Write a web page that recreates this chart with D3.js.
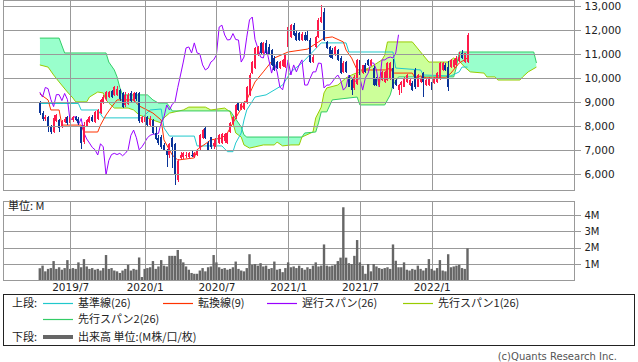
<!DOCTYPE html>
<html>
<head>
<meta charset="utf-8">
<script src="https://cdn.jsdelivr.net/npm/d3@7"></script>
<style>
  body { margin: 0; background: #fff; }
  svg { display: block; }
  text { font-family: "DejaVu Sans", sans-serif; fill: #222; }
  .jp { font-family: "Noto Sans CJK JP", sans-serif; }
</style>
</head>
<body>
<svg id="chart" width="638" height="362"></svg>
<script>
// weekly bars, week of 2019/4/15 .. week of 2022/3/28 (yen)
const opens  = [9000,8550,8280,8370,7980,7750,8200,8250,7950,8150,8370,8120,8250,8350,8300,7950,7330,8000,8150,8350,8160,8300,8550,8950,9100,9200,9450,9290,9300,9500,9370,8850,8900,9370,9050,9350,9350,8150,8150,8380,8050,8250,7700,7500,7530,7200,7000,6800,7500,7240,5750,6650,6700,6750,6700,6800,6700,6800,7070,7500,7900,7280,7530,7150,7100,7300,7300,7350,7300,7750,8100,8370,8950,8700,8700,8950,9300,10200,10400,10950,11460,11040,11460,11300,11160,10830,10660,10410,10500,10450,11290,11700,12200,11870,11870,11600,11800,11800,11580,10660,11290,11700,12330,12750,11500,11290,11160,10950,11160,10830,10250,10660,10040,9910,9580,9750,10750,10200,10540,10750,10540,10410,10000,9700,9910,9830,9910,9950,10410,9910,9490,9700,9620,9830,9700,9790,10330,9620,9830,10200,9700,9700,9830,9790,9830,9950,10330,10540,10450,10450,10450,10540,10700,11040,10660,10660];
const highs  = [9050,8620,8450,8400,8050,8450,8500,8300,8250,8380,8400,8400,8420,8400,8350,8000,8160,8300,8400,8450,8600,8700,9100,9300,9450,9450,9500,9650,9650,9550,9400,9400,9350,9450,9400,9400,9400,8400,8450,8400,8400,8300,8000,7600,7600,7300,7050,7300,7550,7300,6600,6900,6900,6900,6900,6950,6900,7050,7650,7850,7950,7350,7550,7400,7550,7650,7700,7700,7700,8150,8400,8900,9000,8950,9050,9650,10200,10700,11300,11350,11500,11500,11600,11400,11200,10900,10700,10700,10800,11000,12150,12250,12300,11950,11900,11900,11900,12000,11650,10950,11750,12500,13050,12900,11550,11350,11250,11350,11200,10900,10700,10700,10100,9950,10100,10800,10800,10550,10600,10800,10800,10500,10050,10050,10300,10300,10650,10650,10800,9950,9750,9850,10050,10150,9950,9850,10400,10150,10050,10250,9950,10050,9900,10050,10250,10650,10650,10600,10700,10800,10800,10900,11100,11150,11050,11870];
const lows   = [8450,8200,8200,7750,7650,7700,8150,7750,7900,8100,8050,8080,8150,8200,8050,7050,7250,7950,8100,8150,8100,8250,8500,8900,9050,9150,9150,9250,9250,9050,8750,8800,8850,9000,9000,9050,8100,8100,8100,8000,8000,7650,7400,7200,7050,6950,6300,6650,6250,5530,5650,6600,6600,6650,6600,6700,6650,6750,7000,7450,7450,6950,7050,7050,7050,7250,7250,7300,7250,7700,8050,8300,8600,8650,8650,8900,9250,10150,10350,10900,10950,11000,11000,10950,10500,10300,10350,10380,10450,10400,11250,11650,11750,11550,11550,11550,11550,11550,10600,10600,11250,11650,12300,11550,11200,10850,10800,10900,10700,10150,10200,10200,9600,9290,9500,9700,10100,10150,10200,10500,10500,9650,9650,9600,9850,9800,9850,9900,9550,9650,9280,9370,9600,9800,9650,9450,9550,9600,9800,9200,9650,9650,9150,9750,9800,9900,10300,10300,9450,10400,10400,10500,10650,10800,10600,10600];
const closes = [8520,8280,8380,7950,7720,8340,8450,7920,8200,8300,8120,8350,8380,8250,8120,7300,8040,8250,8350,8200,8570,8650,9080,9200,9400,9400,9200,9600,9550,9100,8800,9300,9300,9050,9350,9100,8200,8350,8380,8050,8300,7700,7450,7280,7100,7000,6780,7250,7120,5950,6550,6800,6850,6800,6850,6750,6850,7000,7600,7820,7500,7000,7120,7300,7500,7600,7650,7650,7680,8120,8370,8870,8660,8900,9000,9600,10120,10660,11250,11290,11040,11460,11040,11000,10540,10330,10410,10660,10750,10950,12120,12200,11790,11580,11600,11850,11600,11580,10660,10870,11700,12420,12540,11600,11250,10870,10830,11290,10750,10200,10620,10250,9620,9500,10040,10750,10120,10540,10250,10540,10750,9700,9700,9990,10250,10250,10620,10600,9580,9700,9700,9830,10000,10120,9910,9490,9620,10120,10000,9830,9910,10000,9490,10000,10200,10620,10620,10330,9620,10750,10750,10830,10870,10830,11040,11800];
// volume, million shares
const volumes = [0.74,0.9,0.55,0.7,0.75,1.18,0.7,0.8,0.65,0.75,1.24,0.7,0.75,0.7,1.1,0.8,1.3,0.85,0.7,0.75,0.65,0.7,0.6,0.75,1.55,0.7,0.75,0.6,0.55,0.45,0.6,0.7,0.95,0.6,0.7,0.65,1.4,0.2,0.7,0.75,0.8,1.18,0.7,0.85,1.24,0.9,0.85,1.5,1.5,1.5,1.86,1.3,1.1,0.85,0.65,0.45,0.4,0.4,0.6,0.75,0.55,0.8,0.85,1.55,1.1,0.8,0.7,0.75,0.65,0.7,0.8,1.15,0.7,0.6,0.55,0.75,1.6,0.95,1.0,0.9,1.05,0.85,0.9,0.7,0.75,1.15,0.65,0.7,0.5,0.75,1.1,0.8,0.85,0.75,0.9,0.75,0.65,0.8,0.7,0.9,1.1,0.85,0.9,2.2,0.9,0.85,0.9,0.95,1.18,1.39,4.48,1.39,1.05,1.0,1.5,2.47,1.1,0.9,0.4,1.0,0.55,1.0,0.85,0.75,0.7,0.75,0.8,0.7,2.2,1.2,0.8,0.8,1.1,0.65,0.6,0.7,0.65,0.9,0.7,0.6,0.75,1.3,0.7,0.6,0.75,1.24,0.6,0.55,1.6,0.8,0.85,0.9,0.95,0.75,0.7,1.96];

// ichimoku lines: [week, value]
const tenkan = [[0,9330],[3,9080],[4,8660],[7,8660],[8,8030],[15,8030],[16,7740],[21,7740],[22,8030],[24,8450],[26,8780],[28,9080],[34,9080],[36,8830],[41,8530],[44,8240],[45,7410],[48,6780],[50,6570],[56,6660],[57,7000],[62,7410],[66,7490],[68,7700],[70,8120],[72,8530],[75,9080],[78,9830],[81,10250],[85,10830],[90,11080],[97,11200],[101,11500],[103,11660],[106,11710],[110,11500],[111,11160],[113,10830],[115,10330],[126,10330],[127,10450],[128,10200],[135,10200],[136,10000],[138,10080],[140,10000],[147,10000],[149,10200],[152,10620],[155,10830]];
const kijun = [[0,8930],[14,8930],[15,8660],[21,8660],[23,8330],[37,8330],[40,8660],[44,8700],[45,7910],[47,7570],[56,7570],[57,7160],[66,7160],[68,6920],[70,6920],[71,7280],[73,7700],[74,8240],[75,8660],[78,9200],[82,9290],[88,9700],[91,10250],[95,10620],[102,11460],[111,11460],[112,11080],[128,11080],[129,10410],[138,10330],[139,10120],[149,10080],[152,10250],[153,10450],[155,10450]];
const span1 = [[0,10540],[3,10450],[5,10120],[7,9830],[10,9410],[12,9160],[13,9000],[17,9000],[18,9200],[21,9410],[23,9370],[24,9080],[25,8950],[27,8740],[32,8740],[34,8660],[36,8450],[39,8330],[41,8240],[44,8120],[45,8330],[47,8530],[52,8660],[54,8780],[60,8780],[62,8660],[67,8740],[69,8580],[70,8120],[71,7700],[73,7530],[74,7200],[76,7070],[78,7120],[81,7200],[85,7200],[86,7320],[88,7160],[91,7200],[94,7200],[95,7530],[99,7740],[100,8330],[102,8780],[103,9370],[104,9580],[108,9700],[111,10000],[113,10120],[120,10450],[124,10750],[125,10950],[126,11500],[135,11500],[138,11080],[141,10660],[148,10660],[150,10830],[152,10700],[154,10450],[156,10250],[161,10200],[162,10040],[165,10040],[166,9910],[174,9910],[175,10040],[177,10250],[180,10450]];
const span2 = [[0,11660],[7,11660],[9,11040],[24,11040],[25,10660],[27,10330],[28,10040],[29,9600],[30,9290],[39,9290],[41,9080],[43,8950],[46,8950],[47,8800],[48,8620],[69,8620],[70,8450],[73,7950],[74,7620],[75,7530],[95,7530],[96,7700],[100,7740],[101,8120],[102,8580],[104,8580],[106,9080],[115,9200],[116,8870],[125,8870],[127,9290],[128,9700],[130,10040],[150,10040],[151,10450],[152,11080],[179,11080],[180,10620]];
const chikouShift = 25;

const tickWeeks = [11, 38, 64, 90, 116, 142];
const tickLabels = ["2019/7", "2020/1", "2020/7", "2021/1", "2021/7", "2022/1"];
const priceTicks = [6000, 7000, 8000, 9000, 10000, 11000, 12000, 13000];
const volTicks = [1, 2, 3, 4];

const legendNames = ["基準線(26)", "転換線(9)", "遅行スパン(26)", "先行スパン1(26)", "先行スパン2(26)"];
const legendColors = ["#20c8cc", "#ff3300", "#9900ff", "#99cc00", "#33cc66"];

const svg = d3.select("#chart");
const left = 3.5, right = 574.5;
const pTop = 0.5, pBot = 190.5, vTop = 201.5, vBot = 280.5;
const snap = v => Math.round(v) + 0.5;

const x = d3.scaleLinear().domain([0, 155]).range([39.8, 467.5]);
const y = d3.scaleLinear().domain([6000, 13000]).range([173.7, 6]);
const yv = d3.scaleLinear().domain([0, 4]).range([280.3, 215.1]);

const defs = svg.append("defs");
defs.append("clipPath").attr("id", "pclip")
  .append("rect").attr("x", left).attr("y", pTop).attr("width", right - left).attr("height", pBot - pTop);

const areaDown = d3.area().x(d => x(d[0])).y0(d => y(d[1])).y1(400);
const areaUp = d3.area().x(d => x(d[0])).y0(-50).y1(d => y(d[1]));
defs.append("clipPath").attr("id", "above2").append("path").attr("d", areaUp(span2));
defs.append("clipPath").attr("id", "above1").append("path").attr("d", areaUp(span1));

const plot = svg.append("g").attr("clip-path", "url(#pclip)");

// cloud
plot.append("path").attr("d", areaDown(span1)).attr("fill", "#ccff99").attr("clip-path", "url(#above2)");
plot.append("path").attr("d", areaDown(span2)).attr("fill", "#99ffcc").attr("clip-path", "url(#above1)");

// grid
const grid = svg.append("g").attr("stroke", "#999").attr("shape-rendering", "crispEdges");
grid.selectAll(".hp").data(priceTicks).join("line")
  .attr("x1", left).attr("x2", right).attr("y1", d => snap(y(d))).attr("y2", d => snap(y(d)));
grid.selectAll(".hv").data(volTicks).join("line")
  .attr("x1", left).attr("x2", right).attr("y1", d => snap(yv(d))).attr("y2", d => snap(yv(d)));
grid.selectAll(".vp").data(tickWeeks).join("line")
  .attr("x1", d => snap(x(d))).attr("x2", d => snap(x(d))).attr("y1", pTop).attr("y2", pBot);
grid.selectAll(".vv").data(tickWeeks).join("line")
  .attr("x1", d => snap(x(d))).attr("x2", d => snap(x(d))).attr("y1", vTop).attr("y2", vBot);

// lines
const line = d3.line().x(d => x(d[0])).y(d => y(d[1]));
const chikou = closes.slice(chikouShift).map((c, j) => [j, c]);
[[span1, legendColors[3]], [span2, legendColors[4]], [kijun, legendColors[0]], [tenkan, legendColors[1]], [chikou, legendColors[2]]]
  .forEach(([data, color]) => {
    plot.append("path").attr("d", line(data)).attr("fill", "none").attr("stroke", color).attr("stroke-width", 1);
  });

// candles
const weeks = d3.range(closes.length);
const candleColor = i => closes[i] >= opens[i] ? "#ff1a4a" : "#0a3398";
const cx = i => Math.round(x(i)) - 1;
const candles = plot.append("g").attr("shape-rendering", "crispEdges");
candles.selectAll(".wick").data(weeks).join("rect")
  .attr("x", i => cx(i) + 0.5).attr("width", 1)
  .attr("y", i => y(highs[i])).attr("height", i => y(lows[i]) - y(highs[i]))
  .attr("fill", candleColor);
candles.selectAll(".body").data(weeks).join("rect")
  .attr("x", cx).attr("width", 2)
  .attr("y", i => y(Math.max(opens[i], closes[i])))
  .attr("height", i => Math.max(1, Math.abs(y(opens[i]) - y(closes[i]))))
  .attr("fill", candleColor);

// volume
svg.append("g").selectAll("rect").data(weeks).join("rect")
  .attr("x", i => x(i) - 1.2).attr("width", 2.4)
  .attr("y", i => yv(volumes[i])).attr("height", i => yv(0) - yv(volumes[i]))
  .attr("fill", "#666");

// borders
svg.append("rect").attr("x", left).attr("y", pTop).attr("width", right - left).attr("height", pBot - pTop)
  .attr("fill", "none").attr("stroke", "#999").attr("shape-rendering", "crispEdges");
svg.append("rect").attr("x", left).attr("y", vTop).attr("width", right - left).attr("height", vBot - vTop)
  .attr("fill", "none").attr("stroke", "#999").attr("shape-rendering", "crispEdges");

// axes
const styleAxis = g => {
  g.select(".domain").remove();
  g.selectAll(".tick line").attr("stroke", "#999").attr("shape-rendering", "crispEdges");
  g.selectAll(".tick text").attr("fill", "#222").style("font-family", "DejaVu Sans").style("font-size", "10.5px");
};
svg.append("g").attr("transform", `translate(${right},0)`)
  .call(d3.axisRight(y).tickValues(priceTicks).tickFormat(d3.format(",")).tickSize(6).tickPadding(4))
  .call(styleAxis);
svg.append("g").attr("transform", `translate(${right},0)`)
  .call(d3.axisRight(yv).tickValues(volTicks).tickFormat(d => d + "M").tickSize(6).tickPadding(4))
  .call(styleAxis)
  .call(g => g.selectAll(".tick text").style("font-size", "10px"));
svg.append("g").attr("transform", `translate(0,${vBot})`)
  .call(d3.axisBottom(x).tickValues(tickWeeks).tickFormat((d, i) => tickLabels[i]).tickSize(0).tickPadding(3))
  .call(styleAxis);

svg.append("text").attr("class", "jp").attr("x", 8).attr("y", 206).attr("dy", "0.35em")
  .style("font-size", "11px").text("単位: M");

// legend
svg.append("rect").attr("x", 3.5).attr("y", 294.5).attr("width", 631).attr("height", 51)
  .attr("fill", "none").attr("stroke", "#222").attr("shape-rendering", "crispEdges");
const legendPos = [[43, 303.5], [163, 303.5], [267, 303.5], [403, 303.5], [43, 319.5]];
const legend = svg.append("g");
legend.selectAll("path").data(legendNames).join("path")
  .attr("d", (d, i) => `M${legendPos[i][0]},${legendPos[i][1]}h30`)
  .style("stroke", (d, i) => legendColors[i]).style("stroke-width", 1.2).style("fill", "none");
legend.selectAll("text").data(legendNames).join("text").attr("class", "jp")
  .attr("x", (d, i) => legendPos[i][0] + 35).attr("y", (d, i) => legendPos[i][1]).attr("dy", "0.35em")
  .style("font-size", "11px").text(d => d);
svg.append("text").attr("class", "jp").attr("x", 12).attr("y", 303.5).attr("dy", "0.35em").style("font-size", "11px").text("上段:");
svg.append("text").attr("class", "jp").attr("x", 12).attr("y", 337).attr("dy", "0.35em").style("font-size", "11px").text("下段:");
svg.append("line").attr("x1", 43).attr("x2", 73).attr("y1", 337).attr("y2", 337).attr("stroke", "#666").attr("stroke-width", 4);
svg.append("text").attr("class", "jp").attr("x", 78).attr("y", 337).attr("dy", "0.35em").style("font-size", "11px").text("出来高 単位:(M株/口/枚)");

svg.append("text").attr("x", 617).attr("y", 359.5).attr("text-anchor", "end")
  .style("font-size", "10px").style("fill", "#555").text("(c)Quants Research Inc.");
</script>
</body>
</html>
